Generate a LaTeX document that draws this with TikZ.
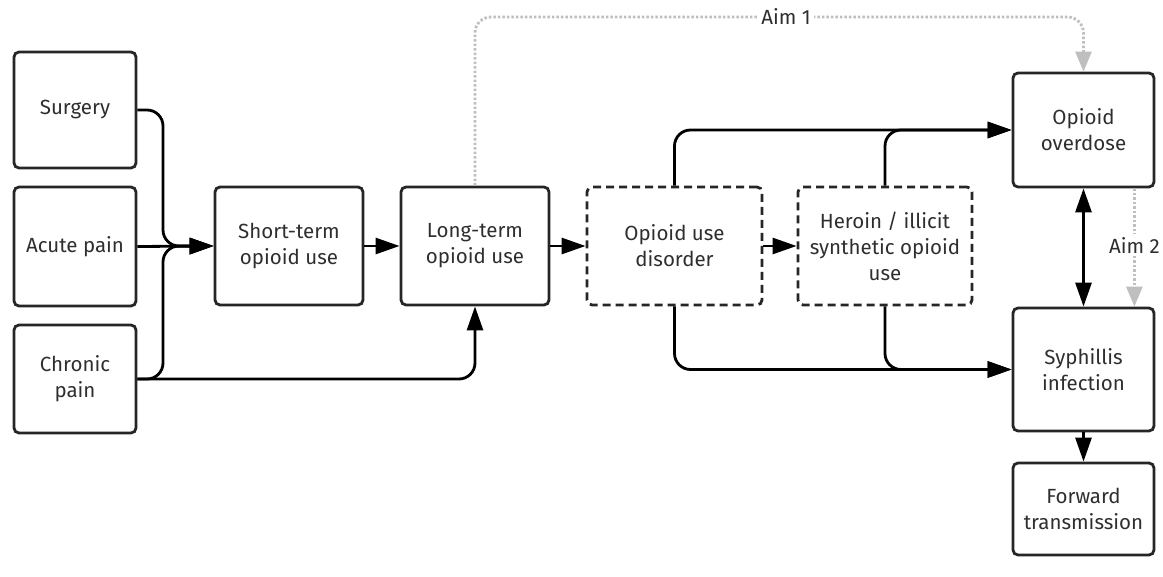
\documentclass[tikz,border=0pt]{standalone}
\usepackage{fontspec}
\setmainfont{Fira Sans}
\usetikzlibrary{arrows.meta,calc}
\begin{document}
\begin{tikzpicture}[x=1pt,y=-1pt,
 box/.style={draw=black!85, line width=2.8pt, rounded corners=5pt, align=center, text=black!82, font=\fontsize{20.5}{26}\selectfont, inner sep=0pt},
 dbox/.style={box, dash pattern=on 8pt off 5pt},
 conn/.style={line width=2.8pt, draw=black, rounded corners=16pt, -{Triangle[length=24pt,width=16pt]}},
 dconn/.style={line width=2.8pt, draw=black, {Triangle[length=24pt,width=16pt]}-{Triangle[length=24pt,width=16pt]}},
 aim/.style={draw=black!25, line width=2.8pt, dash pattern=on 2.5pt off 2pt, rounded corners=16pt, -{Triangle[length=20pt,width=16pt]}},
 aimlab/.style={fill=white, text=black!82, font=\fontsize{20.5}{26}\selectfont, inner sep=3pt}
]
\useasboundingbox (0,0) rectangle (1163,577);
\node[box, minimum width=122, minimum height=116] (surg) at (75,110) {Surgery};
\node[box, minimum width=122, minimum height=119] (acute) at (75,246.5) {Acute pain};
\node[box, minimum width=122, minimum height=108] (chron) at (75,379) {Chronic\\pain};
\node[box, minimum width=148, minimum height=118] (short) at (289,246) {Short-term\\opioid use};
\node[box, minimum width=148, minimum height=118] (long) at (475,246) {Long-term\\opioid use};
\node[dbox, minimum width=175, minimum height=118] (oud) at (674.5,246) {Opioid use\\disorder};
\node[dbox, minimum width=174, minimum height=118] (her) at (885,246) {Heroin / illicit\\synthetic opioid\\use};
\node[box, minimum width=141, minimum height=114] (over) at (1083.5,130) {Opioid\\overdose};
\node[box, minimum width=141, minimum height=123] (syph) at (1083.5,369.5) {Syphillis\\infection};
\node[box, minimum width=141, minimum height=92] (fwd) at (1083.5,509) {Forward\\transmission};

\coordinate (mx) at (163,0);
\draw[conn] (surg.east) -- (surg.east -| mx) -- (short.west -| mx) -- (short.west);
\draw[conn] (acute.east) -- (short.west);
\draw[conn] (chron.east) -- (chron.east -| mx) -- (short.west -| mx) -- (short.west);
\draw[conn] (chron.east) -- (chron.east -| long.south) -- (long.south);
\draw[conn] (short.east) -- (long.west);
\draw[conn] (long.east) -- (oud.west);
\draw[conn] (oud.east) -- (her.west);
\draw[conn] (oud.north) -- (oud.north |- over.west) -- (over.west);
\draw[conn] (her.north) -- (her.north |- over.west) -- (over.west);
\draw[conn] (oud.south) -- (oud.south |- syph.west) -- (syph.west);
\draw[conn] (her.south) -- (her.south |- syph.west) -- (syph.west);
\draw[dconn] (over.south) -- (syph.north);
\draw[conn] (syph.south) -- (fwd.north);

\coordinate (a1) at (475,17);
\draw[aim] (long.north) -- (a1) -- (a1 -| over.north) -- (over.north);
\node[aimlab] (aim1) at (786,17) {Aim 1};
\coordinate (a2s) at ($(over.south east)+(-21,0)$);
\coordinate (a2e) at ($(syph.north east)+(-21,0)$);
\draw[aim] (a2s) -- (a2e);
\node[aimlab] (aim2) at ($(a2s)!0.48!(a2e)$) {Aim 2};
\end{tikzpicture}
\end{document}
